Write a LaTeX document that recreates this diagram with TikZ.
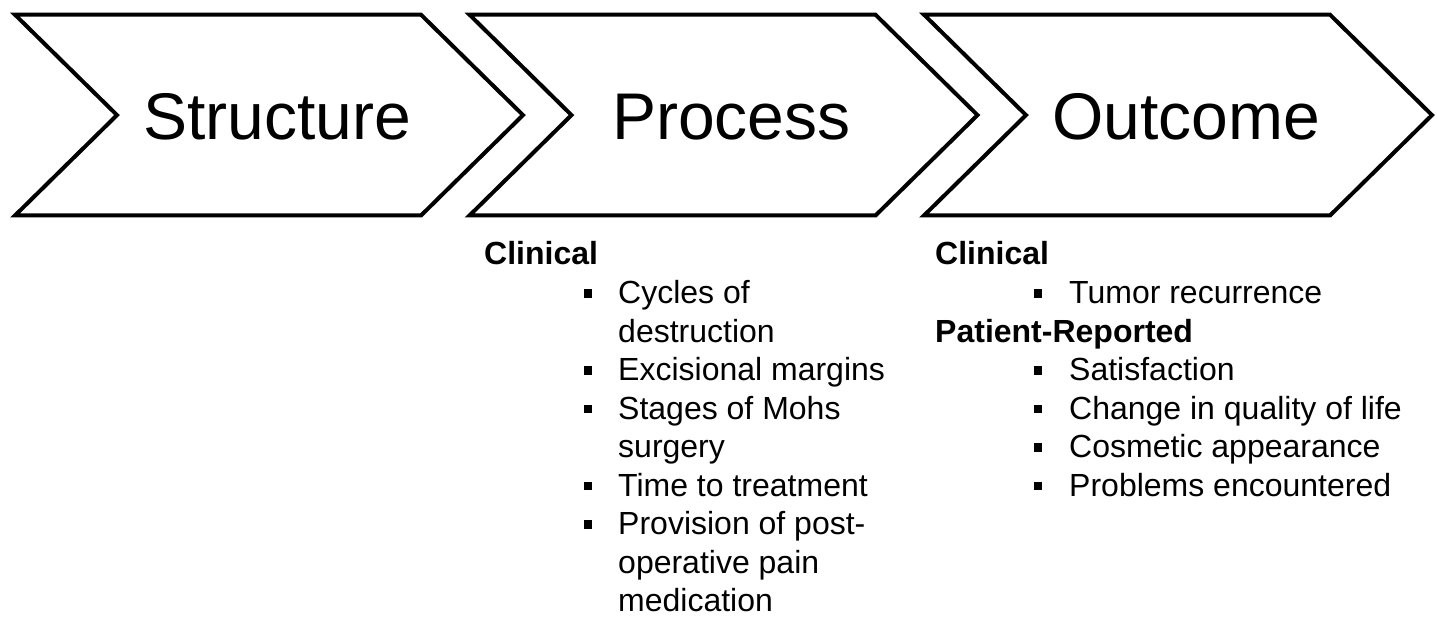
\documentclass[tikz,border=0pt]{standalone}
\usepackage{fontspec}
\setmainfont{Liberation Sans}
\begin{document}
\begin{tikzpicture}[x=1pt,y=-1pt,
  chevron/.style={draw=black,line width=4pt,miter limit=10,fill=white},
  stage/.style={font=\fontsize{66}{79}\selectfont,inner sep=0pt,anchor=base},
  head/.style={font=\fontsize{32}{38}\selectfont\bfseries,inner sep=0pt,anchor=base west},
  entry/.style={font=\fontsize{32}{38}\selectfont,inner sep=0pt,anchor=base west},
  sqbullet/.style={fill=black,draw=none,inner sep=0pt,minimum size=8.5pt,rectangle}]
\useasboundingbox (0,0) rectangle (1437,617);
\fill[white] (0,0) rectangle (1437,617);

% the three chevrons with their stage names
\foreach \x/\nm/\ttl in {15/structure/Structure, 469.5/process/Process, 924/outcome/Outcome}{
  \draw[chevron] (\x,14.7) -- ++(406,0) -- ++(102,100.4) -- ++(-102,100.4)
    -- ++(-406,0) -- ++(102,-100.4) -- cycle;
  \node[stage] (\nm) at (\x+262,140) {\ttl};
}

% Process measures
\node[head]  (pclin) at (484,265)   {Clinical};
\node[entry] (p1a)   at (618,303.5) {Cycles of};
\node[entry] (p1b)   at (618,342)   {destruction};
\node[entry] (p2)    at (618,380.5) {Excisional margins};
\node[entry] (p3a)   at (618,419)   {Stages of Mohs};
\node[entry] (p3b)   at (618,457.5) {surgery};
\node[entry] (p4)    at (618,496)   {Time to treatment};
\node[entry] (p5a)   at (618,534.5) {Provision of post-};
\node[entry] (p5b)   at (618,573)   {operative pain};
\node[entry] (p5c)   at (618,611.5) {medication};
\foreach \y/\nm in {303.5/pb1, 380.5/pb2, 419/pb3, 496/pb4, 534.5/pb5}
  \node[sqbullet] (\nm) at (588,\y-10) {};

% Outcome measures
\node[head]  (oclin) at (935,265)    {Clinical};
\node[entry] (o1)    at (1069,303.5) {Tumor recurrence};
\node[head]  (opat)  at (935,342)    {Patient-Reported};
\node[entry] (o2)    at (1069,380.5) {Satisfaction};
\node[entry] (o3)    at (1069,419)   {Change in quality of life};
\node[entry] (o4)    at (1069,457.5) {Cosmetic appearance};
\node[entry] (o5)    at (1069,496)   {Problems encountered};
\foreach \y/\nm in {303.5/ob1, 380.5/ob2, 419/ob3, 457.5/ob4, 496/ob5}
  \node[sqbullet] (\nm) at (1038,\y-10) {};
\end{tikzpicture}
\end{document}
